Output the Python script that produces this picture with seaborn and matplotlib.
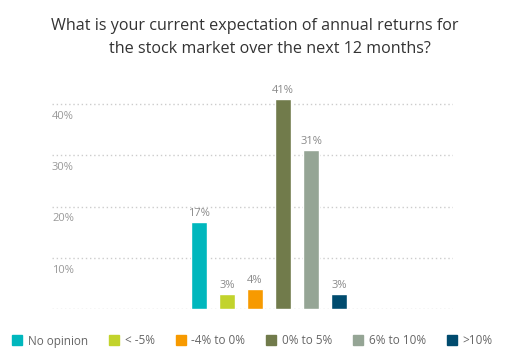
import matplotlib
matplotlib.use("Agg")
import matplotlib.pyplot as plt
import matplotlib.transforms as mtransforms
from matplotlib.lines import Line2D
import seaborn as sns
import pandas as pd

# survey answers
categories = ["No opinion", "< -5%", "-4% to 0%", "0% to 5%", "6% to 10%", ">10%"]
shares = [17, 3, 4, 41, 31, 3]
colors = ["#00B7BD", "#C2D32C", "#F79A00", "#717B4B", "#95A595", "#004B6E"]
yticks = [0, 10, 20, 30, 40]

df = pd.DataFrame({"answer": categories, "share": shares})

sns.set_theme(style="white")
plt.rcParams["font.family"] = ["Open Sans", "DejaVu Sans"]

fig = plt.figure(figsize=(5.11, 3.6), dpi=100)
ax = fig.add_axes([52 / 511, 1 - 309 / 360, 401 / 511, 44 * 5.125 / 360])

sns.barplot(data=df, x="answer", y="share", hue="answer", palette=colors,
            width=0.57, legend=False, ax=ax, saturation=1)

for c in ax.containers:
    ax.bar_label(c, labels=[f"{v:.0f}%" for v in c.datavalues], padding=2,
                 color="#8a8a8a", fontsize=8)

ax.set_xlim(-5.25, 9.07)
ax.set_ylim(0, 44)
ax.set_xlabel("")
ax.set_ylabel("")
ax.set_xticks([])
ax.set_yticks(yticks)
ax.set_yticklabels(["" if t == 0 else f"{t}%" for t in yticks])
ax.tick_params(axis="y", length=0, pad=0, labelsize=8, labelcolor="#999999")
off = mtransforms.ScaledTranslation(0, -5 / 72, fig.dpi_scale_trans)
for lab in ax.get_yticklabels():
    lab.set_ha("left")
    lab.set_va("top")
    lab.set_transform(lab.get_transform() + off)
ax.grid(axis="y", linestyle=(0, (1, 2)), color="#cccccc", linewidth=1)
ax.set_axisbelow(True)
for s in ax.spines.values():
    s.set_visible(False)

fig.text(255 / 511, 1 - 26 / 360, "What is your current expectation of annual returns for",
         ha="center", va="center", fontsize=11.6, color="#333333")
fig.text(270 / 511, 1 - 49 / 360, "the stock market over the next 12 months?",
         ha="center", va="center", fontsize=11.6, color="#333333")

handles = [Line2D([], [], marker="s", linestyle="", markersize=6.5, color=c) for c in colors]
fig.legend(handles, categories, loc="center", bbox_to_anchor=(252 / 511, 1 - 341 / 360),
           ncol=6, frameon=False, fontsize=8.5, labelcolor="#666666",
           handletextpad=0.4, columnspacing=1.7, handlelength=1)

fig.savefig("out.png", dpi=100)
